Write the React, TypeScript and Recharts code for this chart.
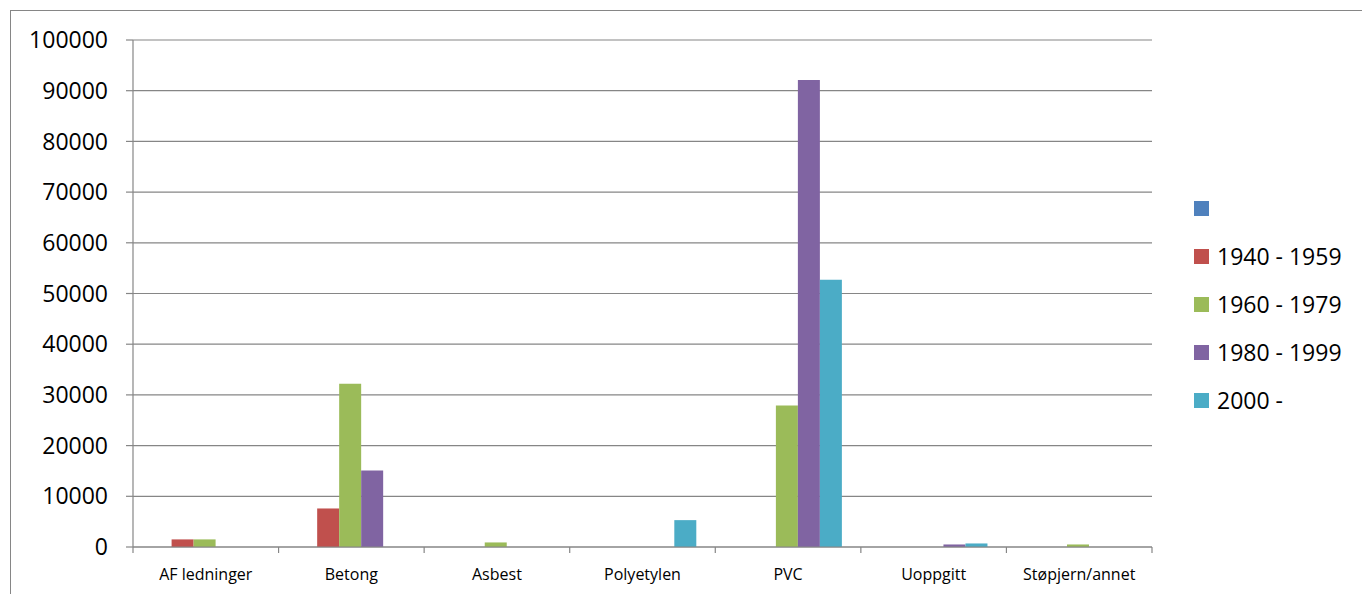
import React from 'react';
import { BarChart, Bar, XAxis, YAxis, CartesianGrid, Legend } from 'recharts';

const categories = ['AF ledninger', 'Betong', 'Asbest', 'Polyetylen', 'PVC', 'Uoppgitt', 'Støpjern/annet'];
const blankSeries = [0, 0, 0, 0, 0, 0, 0];
const s1940 = [1500, 7600, 0, 0, 0, 0, 0];
const s1960 = [1500, 32200, 900, 0, 27900, 0, 500];
const s1980 = [0, 15100, 0, 0, 92100, 500, 0];
const s2000 = [0, 0, 0, 5300, 52700, 700, 0];
const seriesNames = ['', '1940 - 1959', '1960 - 1979', '1980 - 1999', '2000 -'];
const seriesKeys = ['blank', 'p1940', 'p1960', 'p1980', 'p2000'];
const seriesColors = ['#4F81BD', '#C0504D', '#9BBB59', '#8064A2', '#4BACC6'];
const yTicks = [0, 10000, 20000, 30000, 40000, 50000, 60000, 70000, 80000, 90000, 100000];

const seriesValues = [blankSeries, s1940, s1960, s1980, s2000];
const data = categories.map((c, i) => {
  const row: any = { category: c };
  seriesKeys.forEach((k, j) => {
    row[k] = seriesValues[j][i];
  });
  return row;
});

const FONT = '"Open Sans", sans-serif';
const AXIS = '#868686';

const XTick = (props: any) => {
  const { x, y, payload, index } = props;
  const off = payload && payload.offset ? payload.offset : 0;
  const last = index === categories.length - 1;
  return (
    <g>
      <line x1={x - off} x2={x - off} y1={y} y2={y + 6} stroke={AXIS} strokeWidth={1.2} />
      {last && <line x1={x + off} x2={x + off} y1={y} y2={y + 6} stroke={AXIS} strokeWidth={1.2} />}
      <text x={x} y={y + 33} textAnchor="middle" fontSize={16} fontFamily={FONT} fill="#000">
        {payload.value}
      </text>
    </g>
  );
};

const LegendContent = (props: any) => {
  const { payload } = props;
  return (
    <div style={{ fontFamily: FONT }}>
      {(payload || []).map((entry: any, i: number) => {
        const label = entry.payload && typeof entry.payload.name === 'string' ? entry.payload.name : entry.value;
        return (
          <div key={i} style={{ height: 48, display: 'flex', alignItems: 'center' }}>
            <div style={{ width: 15, height: 15, background: entry.color, marginRight: 8 }} />
            <span style={{ fontSize: 23, color: '#000', lineHeight: '48px', whiteSpace: 'nowrap' }}>{label}</span>
          </div>
        );
      })}
    </div>
  );
};

export default function App() {
  return (
    <div style={{ position: 'absolute', left: 0, top: 0, width: 1362, height: 594, background: '#fff', overflow: 'hidden' }}>
      <div
        style={{
          position: 'absolute',
          left: 10,
          top: 10,
          width: 1352,
          height: 584,
          borderLeft: `1px solid ${AXIS}`,
          borderTop: `1px solid ${AXIS}`,
          boxSizing: 'border-box',
        }}
      />
      <div style={{ position: 'absolute', left: 0, top: 0 }}>
        <BarChart
          width={1362}
          height={594}
          data={data}
          margin={{ top: 40, right: 210, bottom: 7, left: 0 }}
          barCategoryGap="11.4%"
          barGap={0}
        >
          <CartesianGrid horizontal vertical={false} stroke={AXIS} strokeWidth={1.2} strokeDasharray="" />
          <XAxis
            dataKey="category"
            height={40}
            tickLine={false}
            tickSize={0}
            tickMargin={0}
            axisLine={{ stroke: AXIS, strokeWidth: 1.2 }}
            tick={<XTick />}
            interval={0}
          />
          <YAxis
            width={133}
            domain={[0, 100000]}
            ticks={yTicks}
            interval={0}
            tickSize={7}
            tickMargin={18}
            tickLine={{ stroke: AXIS, strokeWidth: 1.2 }}
            axisLine={{ stroke: AXIS, strokeWidth: 1.2 }}
            tick={{ fontSize: 23, fill: '#000', fontFamily: FONT }}
          />
          <Legend
            layout="vertical"
            align="center"
            verticalAlign="middle"
            wrapperStyle={{ left: 1194, top: 184, width: 168 }}
            content={<LegendContent />}
          />
          {seriesKeys.map((k, j) => (
            <Bar key={k} dataKey={k} name={seriesNames[j]} fill={seriesColors[j]} isAnimationActive={false} />
          ))}
        </BarChart>
      </div>
    </div>
  );
}
